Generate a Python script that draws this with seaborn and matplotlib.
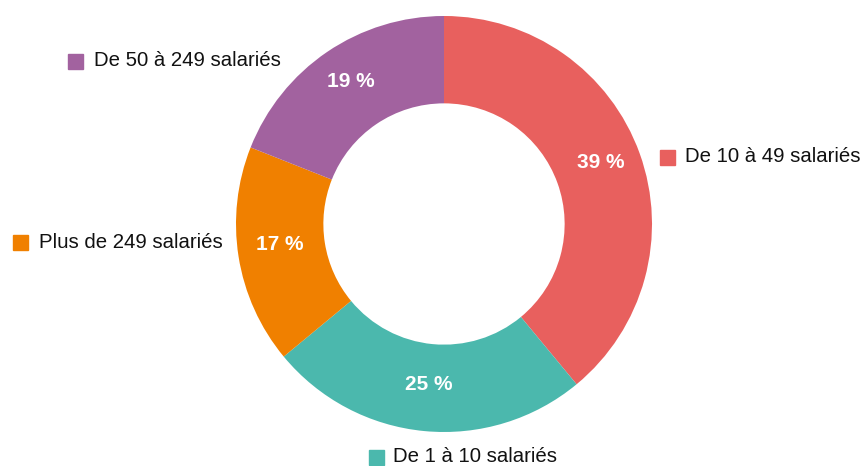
import matplotlib
matplotlib.use('Agg')
import matplotlib.pyplot as plt
from matplotlib.patches import Rectangle
import seaborn as sns

categories = ['De 10 à 49 salariés', 'De 1 à 10 salariés', 'Plus de 249 salariés', 'De 50 à 249 salariés']
shares = [39, 25, 17, 19]
colors = ['#E8605E', '#4BB8AD', '#F08000', '#A2629F']

sns.set_style('white')
plt.rcParams['font.family'] = ['Liberation Sans Narrow', 'Liberation Sans', 'DejaVu Sans']

W, H = 865, 466
fig = plt.figure(figsize=(W / 100, H / 100), dpi=100)
# donut centre (444, 224) px, radius 208 px
cx, cy, r = 444, 224, 208
ax = fig.add_axes([(cx - r) / W, (H - cy - r) / H, 2 * r / W, 2 * r / H])

wedges, _, autotexts = ax.pie(
    shares, colors=colors, startangle=90, counterclock=False,
    autopct=lambda p: f'{p:.0f} %', pctdistance=0.8,
    wedgeprops=dict(width=0.42, edgecolor='none'),
    textprops=dict(color='white', fontsize=15, fontweight='bold'))
# small upward nudge to match the reference
for t in autotexts:
    x, y = t.get_position()
    t.set_position((x, y + 0.025))
ax.set_xlim(-1, 1)
ax.set_ylim(-1, 1)
ax.set_aspect('equal')
ax.axis('off')

# outside labels: (square centre x, y, text start x) in pixels
label_pos = {
    'De 10 à 49 salariés': (667, 157, 685),
    'De 1 à 10 salariés': (376, 457, 393),
    'Plus de 249 salariés': (20, 242, 39),
    'De 50 à 249 salariés': (75, 61, 94),
}
sq = 15
for cat, col in zip(categories, colors):
    sx, sy, tx = label_pos[cat]
    fig.patches.append(Rectangle(((sx - sq / 2) / W, (H - sy - sq / 2) / H), sq / W, sq / H,
                                 transform=fig.transFigure, color=col))
    fig.text(tx / W, (H - sy) / H, cat, ha='left', va='center', fontsize=14.7, color='#111111')

plt.savefig('out.png', dpi=100)
